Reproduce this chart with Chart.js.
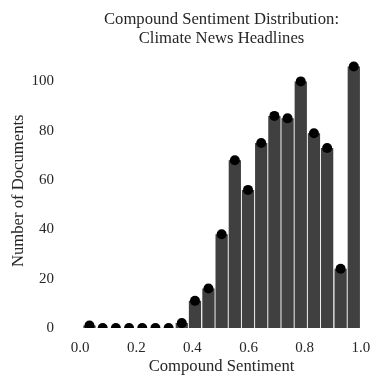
<!DOCTYPE html>
<html>
<head>
<meta charset="utf-8">
<script src="https://cdn.jsdelivr.net/npm/chart.js@4/dist/chart.umd.min.js"></script>
<style>
html,body{margin:0;padding:0;background:#fff;}
canvas{display:block;}
</style>
</head>
<body>
<canvas id="c" width="386" height="383"></canvas>
<script>
// Histogram bin centres (compound sentiment)
const binCenters = [0.033, 0.080, 0.127, 0.174, 0.221, 0.268, 0.315, 0.362, 0.409, 0.457, 0.504,
                    0.551, 0.598, 0.645, 0.692, 0.739, 0.786, 0.833, 0.880, 0.928, 0.975];
// Number of documents per bin
const counts = [1, 0, 0, 0, 0, 0, 0, 2, 11, 16, 38, 68, 56, 75, 86, 85, 100, 79, 73, 24, 106];
const xTicks = [0.0, 0.2, 0.4, 0.6, 0.8, 1.0];
const yTicks = [0, 20, 40, 60, 80, 100];
const titleLines = ['Compound Sentiment Distribution:', 'Climate News Headlines'];
const xLabel = 'Compound Sentiment';
const yLabel = 'Number of Documents';

const points = binCenters.map((x, i) => ({x: x, y: counts[i]}));
const FONT = "'Liberation Serif', 'Times New Roman', serif";
const TXT = '#262626';

new Chart(document.getElementById('c'), {
  type: 'bar',
  data: {
    datasets: [
      {
        type: 'scatter',
        data: points,
        backgroundColor: '#000',
        borderWidth: 0,
        pointRadius: 5,
        pointHoverRadius: 5,
        clip: 0,
        order: 0
      },
      {
        type: 'bar',
        data: points,
        backgroundColor: '#404040',
        borderWidth: 0,
        barPercentage: 0.93,
        categoryPercentage: 1.0,
        order: 1
      }
    ]
  },
  options: {
    responsive: false,
    animation: false,
    devicePixelRatio: 1,
    layout: {padding: {left: 0, right: 12, top: 0, bottom: 0}},
    plugins: {
      legend: {display: false},
      tooltip: {enabled: false},
      title: {
        display: true,
        fullSize: false,
        text: titleLines,
        color: TXT,
        font: {family: FONT, size: 16.67, weight: 'normal', lineHeight: 1.14},
        padding: {top: 10, bottom: 5.5}
      }
    },
    scales: {
      x: {
        type: 'linear',
        offset: false,
        min: -0.040,
        max: 1.047,
        grid: {display: false, drawTicks: false},
        border: {display: false},
        afterBuildTicks: s => { s.ticks = xTicks.map(v => ({value: v})); },
        afterFit: s => { s.height = 55; },
        ticks: {
          color: TXT,
          padding: 11,
          font: {family: FONT, size: 15},
          callback: v => Number(v).toFixed(1)
        },
        title: {
          display: true,
          text: xLabel,
          color: TXT,
          font: {family: FONT, size: 16.67, lineHeight: 1.2},
          padding: {top: 0, bottom: 6}
        }
      },
      y: {
        type: 'linear',
        min: 0,
        max: 111.3,
        grid: {display: false, drawTicks: false},
        border: {display: false},
        afterBuildTicks: s => { s.ticks = yTicks.map(v => ({value: v})); },
        afterFit: s => { s.width = 69; },
        ticks: {
          color: TXT,
          padding: 15,
          font: {family: FONT, size: 15}
        },
        title: {
          display: true,
          text: yLabel,
          color: TXT,
          font: {family: FONT, size: 16.67, lineHeight: 1.2},
          padding: {top: 9, bottom: 0}
        }
      }
    }
  }
});
</script>
</body>
</html>
